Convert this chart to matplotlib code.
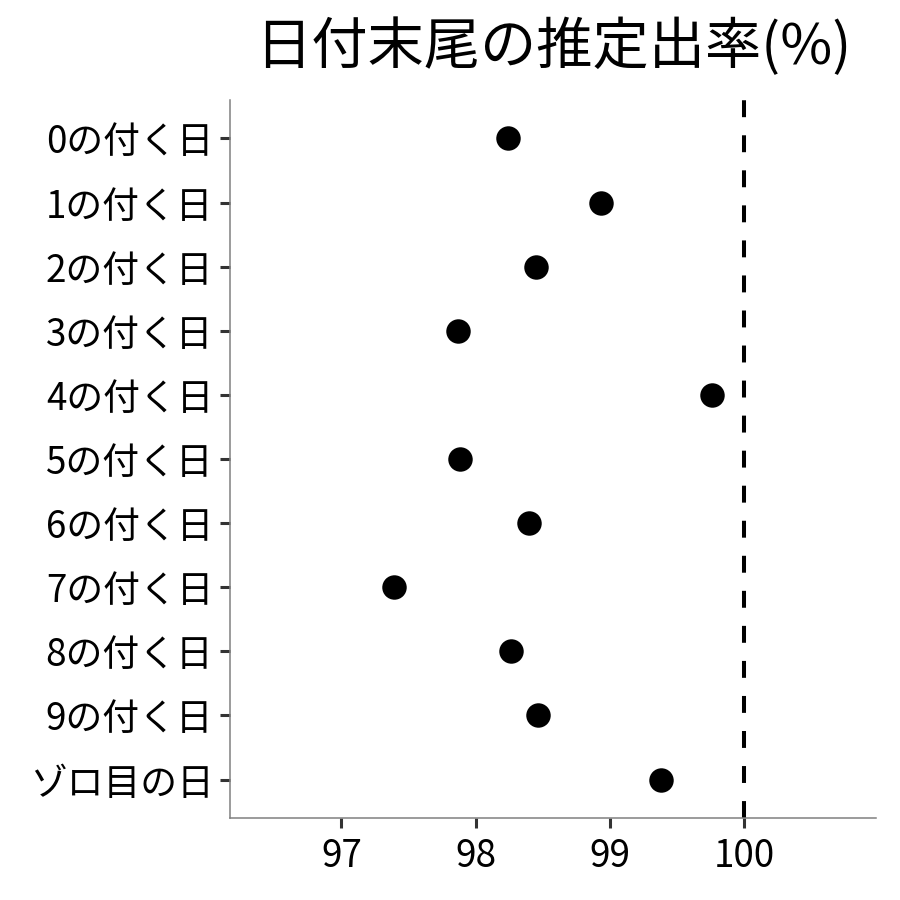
import matplotlib
matplotlib.use("Agg")
import matplotlib.pyplot as plt

plt.rcParams['font.family'] = ['Noto Sans CJK JP', 'DejaVu Sans']

categories = ["0の付く日", "1の付く日", "2の付く日", "3の付く日", "4の付く日",
              "5の付く日", "6の付く日", "7の付く日", "8の付く日", "9の付く日", "ゾロ目の日"]
values = [98.24, 98.93, 98.45, 97.87, 99.76, 97.88, 98.40, 97.39, 98.26, 98.46, 99.38]
xticks = [97, 98, 99, 100]
title = "日付末尾の推定出率(%)"

fig = plt.figure(figsize=(9, 9), dpi=100)
ax = fig.add_axes([230/900, 1-818/900, (876-230)/900, (818-100)/900])

n = len(categories)
ypos = list(range(n))[::-1]
ax.scatter(values, ypos, s=310, color='black', zorder=3, linewidths=0)
ax.axvline(100, color='black', lw=2.9, dashes=(4.2, 4.5), zorder=2)

ax.set_xlim(96.17, 100.98)
ax.set_ylim(-0.6, n - 1 + 0.6)
ax.set_yticks(ypos)
ax.set_yticklabels(categories)
ax.set_xticks(xticks)
ax.set_xticklabels([str(t) for t in xticks])

for s in ['top', 'right']:
    ax.spines[s].set_visible(False)
for s in ['left', 'bottom']:
    ax.spines[s].set_color('#808080')
    ax.spines[s].set_linewidth(1.1)

ax.tick_params(axis='both', length=7, width=2.2, color='#333333', labelsize=26.5, labelcolor='black', pad=5)
ax.tick_params(axis='x', pad=7)
ax.set_title(title, fontsize=40.5, pad=26)

fig.savefig("out.png", dpi=100, facecolor='white')
